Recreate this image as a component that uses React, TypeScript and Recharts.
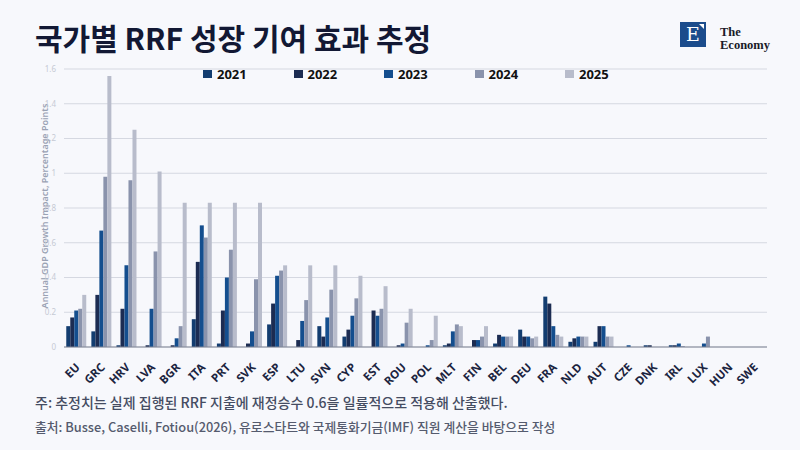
import React from "react";
import { BarChart, Bar, XAxis, YAxis, CartesianGrid } from "recharts";

const countries = [
  "EU", "GRC", "HRV", "LVA", "BGR", "ITA", "PRT", "SVK", "ESP", "LTU",
  "SVN", "CYP", "EST", "ROU", "POL", "MLT", "FIN", "BEL", "DEU", "FRA",
  "NLD", "AUT", "CZE", "DNK", "IRL", "LUX", "HUN", "SWE",
];

const years = ["2021", "2022", "2023", "2024", "2025"];

const v2021 = [0.12, 0.09, 0.01, 0, 0, 0.16, 0.02, 0, 0.13, 0, 0.12, 0.06, 0, 0, 0, 0.01, 0, 0.02, 0.1, 0.29, 0.03, 0.03, 0, 0.01, 0.01, 0, 0, 0];
const v2022 = [0.17, 0.3, 0.22, 0.01, 0.01, 0.49, 0.21, 0.02, 0.25, 0.04, 0.06, 0.1, 0.21, 0.01, 0, 0.02, 0.04, 0.07, 0.06, 0.25, 0.05, 0.12, 0, 0.01, 0.01, 0, 0, 0];
const v2023 = [0.21, 0.67, 0.47, 0.22, 0.05, 0.7, 0.4, 0.09, 0.41, 0.15, 0.17, 0.18, 0.18, 0.02, 0.01, 0.09, 0.04, 0.06, 0.06, 0.12, 0.06, 0.12, 0.01, 0, 0.02, 0.02, 0, 0];
const v2024 = [0.22, 0.98, 0.96, 0.55, 0.12, 0.63, 0.56, 0.39, 0.44, 0.27, 0.33, 0.28, 0.22, 0.14, 0.04, 0.13, 0.06, 0.06, 0.05, 0.07, 0.06, 0.06, 0, 0, 0.005, 0.06, 0, 0];
const v2025 = [0.3, 1.56, 1.25, 1.01, 0.83, 0.83, 0.83, 0.83, 0.47, 0.47, 0.47, 0.41, 0.35, 0.22, 0.18, 0.12, 0.12, 0.06, 0.06, 0.06, 0.06, 0.06, 0, 0, 0, 0, 0, 0];

const yTicks = [0, 0.2, 0.4, 0.6, 0.8, 1, 1.2, 1.4, 1.6];

const colors = ["#133d70", "#1c2c52", "#144e8e", "#8a93ac", "#b8bccb"];

const series = [v2021, v2022, v2023, v2024, v2025];

const data = countries.map((c, i) => {
  const row: Record<string, string | number> = { country: c };
  years.forEach((y, j) => {
    row[y] = series[j][i];
  });
  return row;
});

const korean = "'Noto Sans CJK KR', 'Noto Sans', sans-serif";

const CountryTick = (props: any) => {
  const { x, y, payload } = props;
  return (
    <g transform={`translate(${x + 4},${y + 13})`}>
      <text
        x={0}
        y={0}
        textAnchor="end"
        transform="rotate(-45)"
        fontFamily="'Noto Sans', sans-serif"
        fontWeight={700}
        fontSize={11.5}
        fill="#1b2440"
      >
        {payload.value}
      </text>
    </g>
  );
};

export default function App() {
  return (
    <div
      style={{
        position: "fixed",
        left: 0,
        top: 0,
        width: 800,
        height: 450,
        background: "#f7f8fc",
        overflow: "hidden",
      }}
    >
      <div
        style={{
          position: "absolute",
          left: 35,
          top: 15,
          fontFamily: korean,
          fontWeight: 700,
          fontSize: 30,
          lineHeight: "44px",
          color: "#121834",
          whiteSpace: "nowrap",
        }}
      >
        국가별 RRF 성장 기여 효과 추정
      </div>

      {/* logo */}
      <div
        style={{
          position: "absolute",
          left: 680,
          top: 22,
          width: 26,
          height: 25,
          background: "#1b4c8c",
          color: "#fff",
          fontFamily: "'DejaVu Serif', serif",
          fontSize: 19,
          lineHeight: "25px",
          textAlign: "center",
        }}
      >
        E
        <div
          style={{
            position: "absolute",
            right: 2,
            top: 2,
            width: 0,
            height: 0,
            borderTop: "5px solid #fff",
            borderLeft: "5px solid transparent",
          }}
        />
      </div>
      <div
        style={{
          position: "absolute",
          left: 720,
          top: 27,
          fontFamily: "'Liberation Serif', serif",
          fontWeight: 700,
          fontSize: 12.5,
          lineHeight: "11px",
          color: "#1a1a28",
        }}
      >
        The
      </div>
      <div
        style={{
          position: "absolute",
          left: 720,
          top: 40,
          fontFamily: "'Liberation Serif', serif",
          fontWeight: 700,
          fontSize: 12.5,
          lineHeight: "11px",
          color: "#1a1a28",
        }}
      >
        Economy
      </div>

      {/* legend */}
      {years.map((y, i) => (
        <div
          key={y}
          style={{
            position: "absolute",
            left: 203 + i * 90.5,
            top: 65,
            display: "flex",
            alignItems: "center",
            fontFamily: "'Noto Sans', sans-serif",
            fontWeight: 700,
            fontSize: 13,
            color: "#111",
          }}
        >
          <span
            style={{
              display: "inline-block",
              width: 9,
              height: 8,
              background: colors[i],
              marginRight: 5,
            }}
          />
          {y}
        </div>
      ))}

      {/* y axis title */}
      <div
        style={{
          position: "absolute",
          left: 44,
          top: 206,
          transform: "translate(-50%, -50%) rotate(-90deg)",
          fontFamily: "'Noto Sans', sans-serif",
          fontWeight: 600,
          fontSize: 9,
          color: "#9aa2b4",
          whiteSpace: "nowrap",
        }}
      >
        Annual GDP Growth Impact, Percentage Points
      </div>

      <div style={{ position: "absolute", left: 0, top: 0 }}>
        <BarChart
          width={800}
          height={450}
          data={data}
          margin={{ top: 69, right: 33, left: 34, bottom: 63 }}
          barCategoryGap="9%"
          barGap={0}
        >
          <CartesianGrid vertical={false} stroke="#d5d8e1" strokeWidth={1} />
          <XAxis
            dataKey="country"
            interval={0}
            tickLine={false}
            axisLine={{ stroke: "#7f8494", strokeWidth: 1 }}
            tick={<CountryTick />}
            height={40}
          />
          <YAxis
            domain={[0, 1.6]}
            ticks={yTicks}
            width={30}
            axisLine={false}
            tickLine={false}
            tick={{ fontSize: 8, fill: "#c6cad4", fontFamily: "'Noto Sans', sans-serif" }}
          />
          {years.map((y, i) => (
            <Bar key={y} dataKey={y} fill={colors[i]} isAnimationActive={false} />
          ))}
        </BarChart>
      </div>

      <div
        style={{
          position: "absolute",
          left: 35,
          top: 392,
          fontFamily: korean,
          fontWeight: 500,
          fontSize: 14,
          lineHeight: "20px",
          color: "#454c62",
          whiteSpace: "nowrap",
        }}
      >
        주: 추정치는 실제 집행된 RRF 지출에 재정승수 0.6을 일률적으로 적용해 산출했다.
      </div>
      <div
        style={{
          position: "absolute",
          left: 35,
          top: 418,
          fontFamily: korean,
          fontWeight: 500,
          fontSize: 12.8,
          lineHeight: "18px",
          color: "#555b6e",
          whiteSpace: "nowrap",
        }}
      >
        출처: Busse, Caselli, Fotiou(2026), 유로스타트와 국제통화기금(IMF) 직원 계산을 바탕으로 작성
      </div>
    </div>
  );
}
